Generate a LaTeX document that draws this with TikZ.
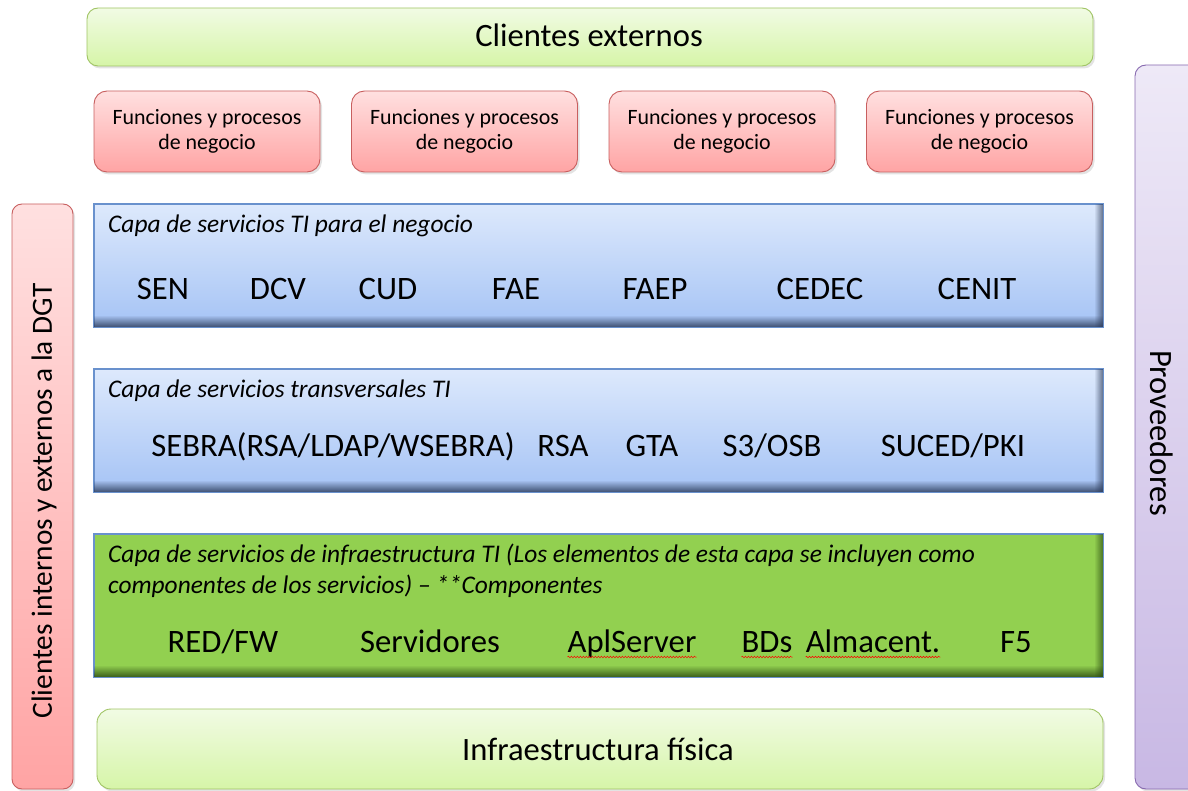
\documentclass[tikz,border=0pt]{standalone}
\usepackage{fontspec}
\setmainfont{Carlito}
\usetikzlibrary{shadows,decorations.pathmorphing}
\definecolor{lgtop}{RGB}{241,251,228}
\definecolor{lgbot}{RGB}{214,245,168}
\definecolor{lgdraw}{RGB}{160,196,100}
\definecolor{pktop}{RGB}{255,224,224}
\definecolor{pkbot}{RGB}{255,164,164}
\definecolor{pkdraw}{RGB}{200,95,95}
\definecolor{bltop}{RGB}{221,233,252}
\definecolor{blbot}{RGB}{165,195,245}
\definecolor{bldraw}{RGB}{105,145,205}
\definecolor{bldark}{RGB}{40,55,85}
\definecolor{grfill}{RGB}{146,208,80}
\definecolor{grdark}{RGB}{40,70,15}
\definecolor{pptop}{RGB}{238,233,247}
\definecolor{ppbot}{RGB}{200,184,228}
\definecolor{ppdraw}{RGB}{135,105,175}
\newcommand\layerbevel[2]{%
  \foreach \i in {0,...,10}{%
    \pgfmathsetmacro\op{0.75*(1-\i/11)}%
    \fill[#2,opacity=\op] ([yshift=\i]#1.south west) rectangle ([yshift=\i+1]#1.south east);
  }%
  \foreach \i in {0,...,7}{%
    \pgfmathsetmacro\op{0.6*(1-\i/8)}%
    \fill[#2,opacity=\op] ([xshift=-\i]#1.north east) rectangle ([xshift=-\i-1]#1.south east);
  }%
  \draw[bldraw,line width=0.6pt] (#1.north west) rectangle (#1.south east);
}
\begin{document}
\begin{tikzpicture}[x=1pt,y=-1pt,
  shd/.style={drop shadow={opacity=0.22,shadow xshift=2pt,shadow yshift=-2.5pt}},
  lgbox/.style={shd,draw=lgdraw,line width=0.9pt,rounded corners=11pt,top color=lgtop,bottom color=lgbot,inner sep=0pt},
  pkbox/.style={shd,draw=pkdraw,line width=0.9pt,rounded corners=13pt,top color=pktop,bottom color=pkbot,inner sep=0pt},
  ppbox/.style={shd,draw=ppdraw,line width=0.9pt,rounded corners=11pt,top color=pptop,bottom color=ppbot,inner sep=0pt},
  layer/.style={draw=bldraw,line width=0.6pt,inner sep=0pt},
  blue/.style={layer,top color=bltop,bottom color=blbot},
  green/.style={layer,fill=grfill},
  ttl/.style={font=\fontsize{25.4}{30}\selectfont\itshape,anchor=base west,inner sep=0pt},
  item/.style={font=\fontsize{32.7}{38}\selectfont,anchor=base,inner sep=0pt},
  func/.style={font=\fontsize{21.9}{25.5}\selectfont,align=center,inner sep=0pt},
  big/.style={font=\fontsize{32.6}{38}\selectfont,inner sep=0pt},
  spell/.style={draw=red,line width=0.5pt,decorate,decoration={snake,amplitude=0.8pt,segment length=3pt}}
]
\useasboundingbox (0,0) rectangle (1188,791);

% top
\node[lgbox,minimum width=1006pt,minimum height=58pt] (ext) at (590,37) {};
\node[big,anchor=base] (extt) at (589,47) {Clientes externos};

\foreach \cx/\n in {207/f1,464.5/f2,722/f3,979.5/f4}{
  \node[pkbox,minimum width=226pt,minimum height=81pt] (\n) at (\cx,131.5) {};
  \node[func] (\n t) at (\cx,131.5) {Funciones y procesos\\de negocio};
}

% side bars
\node[pkbox,rounded corners=10pt,minimum width=61pt,minimum height=585pt] (left) at (42.5,496.5) {};
\node[big,font=\fontsize{29.3}{34}\selectfont,rotate=90] (leftt) at (44,501) {Clientes internos y externos a la DGT};
\node[ppbox,minimum width=70pt,minimum height=724pt] (right) at (1170,427) {};
\node[big,rotate=-90] (rightt) at (1162,433) {Proveedores};

% layer 1
\node[blue,minimum width=1009pt,minimum height=123pt] (l1) at (598.5,265.5) {};
\layerbevel{l1}{bldark}
\node[ttl] (l1t) at (108,233) {Capa de servicios TI para el negocio};
\foreach \x/\t/\n in {163/SEN/a1,278/DCV/a2,388/CUD/a3,516/FAE/a4,655/FAEP/a5,820/CEDEC/a6,977/CENIT/a7}
  \node[item] (\n) at (\x,300) {\t};

% layer 2
\node[blue,minimum width=1009pt,minimum height=123pt] (l2) at (598.5,430.5) {};
\layerbevel{l2}{bldark}
\node[ttl] (l2t) at (108,397) {Capa de servicios transversales TI};
\foreach \x/\t/\n in {333/{SEBRA(RSA/LDAP/WSEBRA)}/b1,563/RSA/b2,652/GTA/b3,772/S3\slash OSB/b4,953/SUCED\slash PKI/b5}
  \node[item] (\n) at (\x,456) {\t};

% layer 3
\node[green,minimum width=1009pt,minimum height=143pt] (l3) at (598.5,605.5) {};
\layerbevel{l3}{grdark}
\node[ttl] (l3t) at (108,562) {Capa de servicios de infraestructura TI (Los elementos de esta capa se incluyen como};
\node[ttl] (l3u) at (108,593) {componentes de los servicios) -- **Componentes};
\foreach \x/\t/\n in {223/RED\slash FW/c1,430/Servidores/c2,632/AplServer/c3,767/BDs/c4,873/Almacent./c5,1016/F5/c6}
  \node[item] (\n) at (\x,652) {\t};
\foreach \n in {c3,c4,c5}
  \draw[spell] ([yshift=-5pt]\n.base west) -- ([yshift=-5pt]\n.base east);

% bottom
\node[lgbox,rounded corners=14pt,minimum width=1006pt,minimum height=80pt] (inf) at (600,749) {};
\node[big,anchor=base] (inft) at (598,760) {Infraestructura física};
\end{tikzpicture}
\end{document}
